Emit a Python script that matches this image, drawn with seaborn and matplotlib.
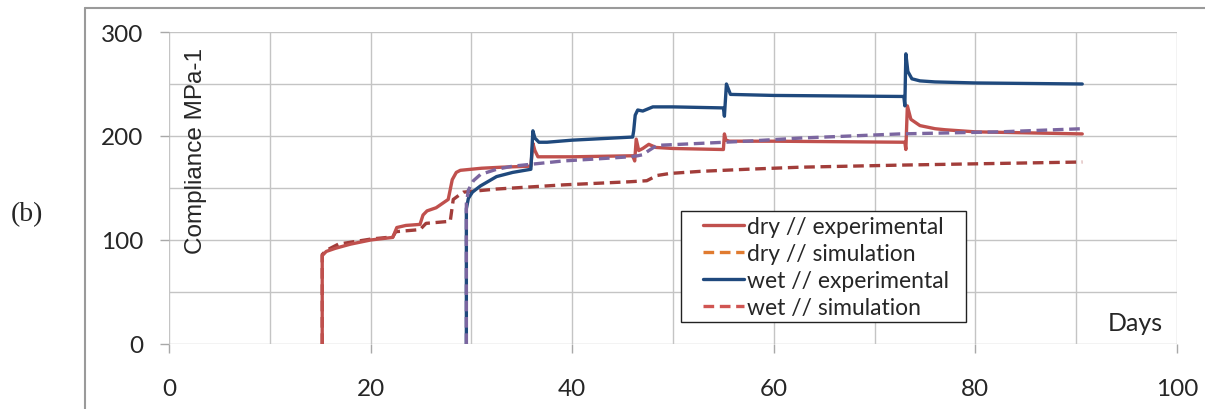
import matplotlib
matplotlib.use("Agg")
import pandas as pd
import seaborn as sns
import matplotlib.pyplot as plt
from matplotlib.lines import Line2D
from matplotlib.patches import Rectangle
from matplotlib.ticker import MultipleLocator

# dry // experimental (red solid)
dry_exp_days = [15.2, 15.2, 15.6, 16.5, 18, 20, 22.2, 22.6, 23.5, 24.9, 25.2, 25.6, 26.5, 27.7, 28.1,
                28.5, 28.9, 31, 33, 35.9, 36.1, 36.3, 36.6, 40, 46.0, 46.2, 46.35, 46.6, 47.0, 47.6,
                48.3, 50, 55.0, 55.1, 55.25, 55.6, 60, 73.0, 73.1, 73.25, 73.6, 74.5, 76, 77, 80, 90.6]
dry_exp_vals = [0, 85, 89, 92, 96, 100, 102.5, 112, 114, 115, 124, 128, 131, 139, 158,
                165, 167, 169, 170, 171, 193, 186, 180, 180, 181, 176, 197, 186, 188, 192,
                189, 188, 187, 202, 196, 195, 195, 194, 187, 229, 216, 210, 207, 206, 204, 202]

# wet // experimental (blue solid)
wet_exp_days = [29.5, 29.5, 29.7, 30.1, 30.9, 32.5, 34.1, 35.9, 36.1, 36.3, 36.7, 37.5, 40, 46.0,
                46.1, 46.25, 46.5, 47, 48, 50, 55.0, 55.1, 55.3, 55.7, 60, 72.9, 73.0, 73.1, 73.3,
                73.7, 74.5, 76, 80, 90.6]
wet_exp_vals = [0, 130, 140, 146, 152, 161, 165, 168, 205, 198, 194, 194, 196, 199,
                205, 220, 225, 224, 228, 228, 227, 219, 250, 240, 239, 238, 229, 279, 262,
                255, 253, 252, 251, 250]

# simulation following the wet test (purple dashed)
sim_a_days = [29.5, 29.5, 29.7, 30.2, 30.9, 32.5, 34.1, 36.1, 39.1, 42.5, 45.7, 46.5, 47.0, 47.6,
              48.4, 50.7, 57.3, 62.6, 72.5, 82.4, 90.6]
sim_a_vals = [0, 135, 148, 157, 163, 168, 171, 173, 176, 178, 180, 181, 182, 186,
              191, 192, 195, 198, 202, 204, 207]

# simulation following the dry test (dark red dashed)
sim_b_days = [15.2, 15.2, 15.6, 16.8, 20.1, 22.2, 22.5, 24.9, 25.5, 27.9, 28.2, 28.9, 29.2, 32.5,
              35.8, 39.1, 45.7, 47.4, 48.4, 49.7, 52.7, 57.3, 62.6, 72.5, 90.6]
sim_b_vals = [0, 86, 90, 96, 101, 103, 108, 110, 116, 118, 139, 144, 146, 149,
              151, 153, 156, 157, 162, 164, 166, 168, 170, 172, 175]

legend_labels = ["dry // experimental", "dry // simulation", "wet // experimental", "wet // simulation"]

RED = "#C0504D"
BLUE = "#1F497D"
PURPLE = "#7B66A0"
DARKRED = "#A23D3A"
ORANGE = "#E07B30"

sns.set_theme(style="white")
plt.rcParams["font.family"] = ["Lato", "DejaVu Sans"]

fig = plt.figure(figsize=(12.05, 4.10), dpi=100)
ax = fig.add_axes([169 / 1205, 1 - 345 / 410, (1177 - 169) / 1205, (345 - 33) / 410])

dash = (0, (3.2, 1.7))
series = [
    (sim_b_days, sim_b_vals, DARKRED, dash),
    (dry_exp_days, dry_exp_vals, RED, "-"),
    (wet_exp_days, wet_exp_vals, BLUE, "-"),
    (sim_a_days, sim_a_vals, PURPLE, dash),
]
for d, v, c, ls in series:
    df = pd.DataFrame({"day": d, "val": v})
    sns.lineplot(data=df, x="day", y="val", ax=ax, color=c, linewidth=2.4,
                 linestyle=ls, estimator=None, sort=False, legend=False)

ax.set_xlim(0, 100)
ax.set_ylim(0, 300)
ax.xaxis.set_major_locator(MultipleLocator(20))
ax.xaxis.set_minor_locator(MultipleLocator(10))
ax.yaxis.set_major_locator(MultipleLocator(100))
ax.yaxis.set_minor_locator(MultipleLocator(50))
ax.grid(which="both", color="#C4C4C4", linewidth=1.0)
ax.set_axisbelow(True)
for s in ax.spines.values():
    s.set_visible(False)
ax.tick_params(which="major", length=6.5, width=1.0, color="#A8A8A8", labelsize=17.5,
               bottom=True, left=True, direction="out")
ax.tick_params(axis="x", pad=18)
ax.tick_params(axis="y", pad=12)
ax.tick_params(which="minor", length=0)
ax.set_xlabel("")
ax.set_ylabel("")

ax.text(2.7, 285.5, "Compliance MPa-1", rotation=90, ha="center", va="top",
        fontsize=17.5, family=["Liberation Sans", "DejaVu Sans"])
ax.text(98.6, 13, "Days", ha="right", va="baseline", fontsize=18)

fig.text(27 / 1205, 1 - 215 / 410, "(b)", ha="center", va="center", fontsize=20,
         family=["Liberation Serif", "DejaVu Serif"])

handles = [
    Line2D([], [], color=RED, lw=2.4),
    Line2D([], [], color=ORANGE, lw=2.4, linestyle=dash),
    Line2D([], [], color=BLUE, lw=2.4),
    Line2D([], [], color="#D05552", lw=2.4, linestyle=dash),
]
leg = fig.legend(handles, legend_labels, loc="upper left",
                 bbox_to_anchor=(703 / 1205, 1 - 217 / 410), fontsize=16.5,
                 frameon=False, handlelength=1.8, handletextpad=0.12,
                 labelspacing=0.26, borderpad=0, borderaxespad=0)
# legend box
fig.add_artist(Rectangle((681 / 1205, 1 - 323 / 410), (966 - 681) / 1205, (323 - 212) / 410,
                         transform=fig.transFigure, facecolor="white", edgecolor="#222222",
                         lw=1.0, zorder=2))
leg.set_zorder(3)

# chart-area border (left and top edges visible)
fig.add_artist(Line2D([85 / 1205, 85 / 1205], [0, 1 - 9 / 410], color="#9A9A9A", lw=1.5))
fig.add_artist(Line2D([85 / 1205, 1], [1 - 9 / 410, 1 - 9 / 410], color="#9A9A9A", lw=1.5))

fig.savefig("out.png", dpi=100)
